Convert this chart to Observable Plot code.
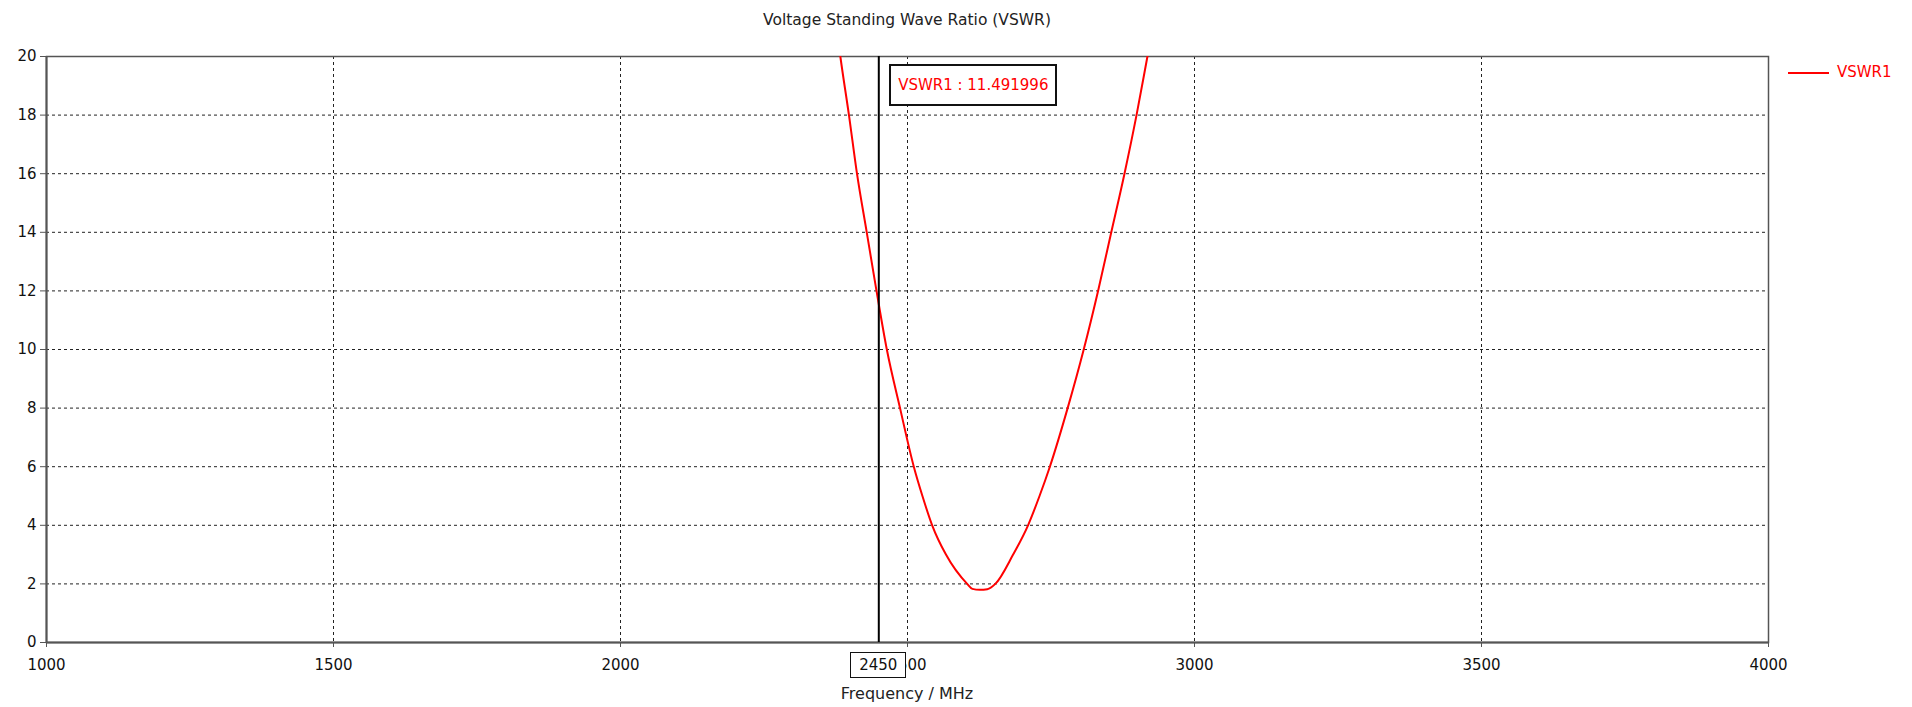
<!DOCTYPE html>
<html>
<head>
<meta charset="utf-8">
<script src="https://cdn.jsdelivr.net/npm/d3@7"></script>
<script src="https://cdn.jsdelivr.net/npm/@observablehq/plot@0.6"></script>
<style>
  body { margin: 0; background: #fff; font-family: "DejaVu Sans", sans-serif; }
  #wrap { position: relative; width: 1912px; height: 707px; overflow: hidden; background: #fff; }
  #title { height: 40px; line-height: 40px; margin-left: 46px; width: 1722px; text-align: center; font-size: 15.5px; color: #222; }
  .ov { position: absolute; box-sizing: border-box; white-space: nowrap; }
  #xlabel { left: 46px; width: 1722px; top: 684px; height: 20px; line-height: 20px; text-align: center; font-size: 16px; color: #222; }
  #legend { left: 1788px; top: 62px; height: 20px; line-height: 20px; font-size: 15px; color: #f00; }
  #legend span.sw { display: inline-block; width: 41px; height: 2px; background: #f00; vertical-align: middle; margin-right: 8px; }
  #markbox { top: 652px; height: 26px; width: 56px; border: 1px solid #111; background: #fff; text-align: center; line-height: 24px; font-size: 15px; color: #111; }
  #readout { top: 64px; height: 42px; width: 168px; border: 2px solid #111; background: #fff; text-align: center; line-height: 38px; font-size: 15px; color: #f00; }
</style>
</head>
<body>
<div id="wrap">
  <div id="title"></div>
  <div id="chart"></div>
</div>
<script>
// ---- data ----
const titleText = "Voltage Standing Wave Ratio (VSWR)";
const xLabelText = "Frequency / MHz";
const seriesName = "VSWR1";
const xTicks = [1000, 1500, 2000, 2500, 3000, 3500, 4000];
const yTicks = [0, 2, 4, 6, 8, 10, 12, 14, 16, 18, 20];
const freq = [2370, 2383, 2398, 2412, 2429, 2446, 2464, 2487, 2511, 2526, 2543, 2567, 2604, 2613, 2626, 2639, 2653, 2684, 2710, 2730, 2748, 2779, 2807, 2832, 2855, 2878, 2899, 2918, 2937];
const vswr = [22, 20, 18, 16, 14, 12, 10, 8, 6, 5, 4, 3, 2, 1.83, 1.80, 1.82, 2, 3, 4, 5, 6, 8, 10, 12, 14, 16, 18, 20, 22];
const markerFreq = 2450;
const markerValueText = "11.491996";

const data = freq.map((f, i) => ({f, v: vswr[i]}));

document.getElementById("title").textContent = titleText;

const plot = Plot.plot({
  width: 1912,
  height: 667,
  marginLeft: 46,
  marginRight: 144,
  marginTop: 16,
  marginBottom: 65,
  style: { fontFamily: "DejaVu Sans, sans-serif", fontSize: "15px", color: "#111", background: "#fff", overflow: "visible" },
  x: { domain: [1000, 4000], label: null },
  y: { domain: [0, 20], label: null },
  marks: [
    Plot.gridX(xTicks.slice(1, -1), { stroke: "#222", strokeOpacity: 1, strokeWidth: 1, strokeDasharray: "3,3" }),
    Plot.gridY(yTicks.slice(1, -1), { stroke: "#222", strokeOpacity: 1, strokeWidth: 1, strokeDasharray: "3,3" }),
    Plot.frame({ stroke: "#555", strokeWidth: 1.5 }),
    Plot.axisX({ ticks: xTicks, tickSize: 5, tickPadding: 12, fontSize: 15, tickFormat: d => String(d), label: null, stroke: "#555" }),
    Plot.axisY({ ticks: yTicks, tickSize: 6, tickPadding: 4, fontSize: 15, tickFormat: d => String(d), label: null, stroke: "#555" }),
    Plot.ruleY([0], { stroke: "#555", strokeWidth: 2 }),
    Plot.ruleX([1000], { stroke: "#555", strokeWidth: 2 }),
    Plot.line(data, { x: "f", y: "v", stroke: "#f00", strokeWidth: 2, curve: "monotone-x", clip: true }),
    Plot.ruleX([markerFreq], { stroke: "#000", strokeWidth: 2 })
  ]
});
document.getElementById("chart").appendChild(plot);

const wrap = document.getElementById("wrap");
const xs = plot.scale("x");
const px = xs.apply(markerFreq);

const xl = document.createElement("div");
xl.className = "ov"; xl.id = "xlabel"; xl.textContent = xLabelText;
wrap.appendChild(xl);

const lg = document.createElement("div");
lg.className = "ov"; lg.id = "legend";
lg.innerHTML = '<span class="sw"></span>';
lg.appendChild(document.createTextNode(seriesName));
wrap.appendChild(lg);

const mb = document.createElement("div");
mb.className = "ov"; mb.id = "markbox"; mb.textContent = String(markerFreq);
mb.style.left = (px - 28) + "px";
wrap.appendChild(mb);

const ro = document.createElement("div");
ro.className = "ov"; ro.id = "readout"; ro.textContent = seriesName + " : " + markerValueText;
ro.style.left = (px + 11) + "px";
wrap.appendChild(ro);
</script>
</body>
</html>
